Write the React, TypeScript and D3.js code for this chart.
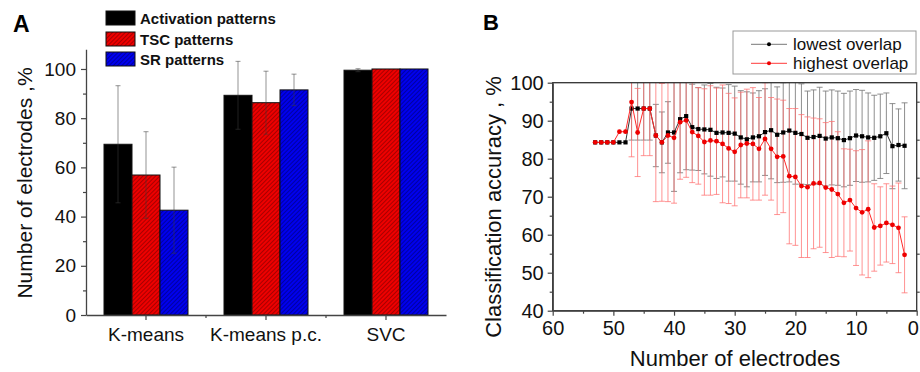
import React, { useEffect, useRef } from 'react';
import * as d3 from 'd3';

const FONT = '"Liberation Sans", Arial, Helvetica, sans-serif';

// Panel A: bar chart
const categories = ['K-means', 'K-means p.c.', 'SVC'];
const seriesNames = ['Activation patterns', 'TSC patterns', 'SR patterns'];
const activationValues = [69.4, 89.3, 99.5];
const activationErrors = [23.8, 13.8, 0.6];
const tscValues = [56.9, 86.3, 100];
const tscErrors = [17.6, 12.8, 0];
const srValues = [42.6, 91.5, 100];
const srErrors = [17.5, 6.4, 0];
const yTicksA = [0, 20, 40, 60, 80, 100];
const yMinorA = [10, 30, 50, 70, 90];

// Panel B: accuracy vs number of electrodes
const electrodes = [53, 52, 51, 50, 49, 48, 47, 46, 45, 44, 43, 42, 41, 40, 39, 38, 37, 36, 35, 34, 33, 32, 31, 30, 29, 28, 27,
  26, 25, 24, 23, 22, 21, 20, 19, 18, 17, 16, 15, 14, 13, 12, 11, 10, 9, 8, 7, 6, 5, 4, 3, 2];
const lowestOverlap = [84.3, 84.3, 84.3, 84.3, 84.3, 84.3, 93.2, 93.2, 93.2, 93.2, 86.1, 84.3, 86.9, 86.9, 90.4, 91.2, 88.3,
  87.8, 87.7, 87.6, 86.8, 86.9, 86.8, 86.6, 85.6, 85.1, 85.6, 85.9, 87.0, 87.5, 86.3, 86.9, 87.4, 86.8, 86.5, 85.5, 85.7, 86.0,
  85.3, 85.6, 85.4, 84.9, 85.4, 86.1, 85.9, 85.6, 85.5, 85.9, 86.7, 83.3, 83.6, 83.4];
const lowestErrors = [0, 0, 0, 0, 0, 0, 8.3, 8.3, 8.3, 8.3, 8.2, 8.0, 8.1, 15.5, 14.1, 14.1, 11.3, 10.9, 11.7, 12.2, 12.0, 11.7,
  12.7, 12.5, 12.3, 12.5, 11.7, 12.0, 11.4, 12.8, 12.6, 13.1, 13.5, 13.5, 13.2, 12.3, 12.4, 12.8, 12.5, 12.5, 12.4, 12.3, 12.4,
  12.1, 12.1, 11.7, 11.2, 11.1, 10.6, 11.2, 9.5, 11.3];
const highestOverlap = [84.3, 84.3, 84.3, 84.3, 87.1, 87.1, 94.9, 86.9, 93.2, 93.2, 86.1, 84.3, 86.1, 85.5, 89.6, 90.1, 87.0,
  86.0, 84.4, 84.8, 84.6, 83.9, 82.7, 81.8, 83.6, 84.0, 83.9, 82.6, 85.2, 82.6, 80.5, 80.6, 75.4, 75.2, 72.8, 72.5, 73.5, 73.6,
  72.4, 71.9, 70.7, 68.4, 69.1, 67.0, 65.9, 66.7, 61.9, 62.3, 63.1, 62.6, 61.8, 54.7];
const highestErrors = [0, 0, 0, 0, 0, 0, 14.4, 11.6, 12.4, 12.4, 17.4, 15.5, 17.4, 17.2, 15.0, 15.0, 13.3, 12.7, 14.0, 14.4,
  14.0, 15.5, 14.5, 14.2, 13.9, 14.3, 14.8, 13.5, 14.8, 13.5, 15.2, 14.8, 17.8, 18.0, 18.8, 18.5, 17.2, 16.9, 17.1, 17.9, 16.4,
  14.2, 13.4, 15.1, 16.5, 18.0, 11.5, 10.3, 10.3, 10.2, 11.8, 10.0];
const xTicksB = [60, 50, 40, 30, 20, 10, 0];
const xMinorB = [55, 45, 35, 25, 15, 5];
const yTicksB = [40, 50, 60, 70, 80, 90, 100];
const yMinorB = [45, 55, 65, 75, 85, 95];

export default function App() {
  const svgRef = useRef<SVGSVGElement>(null);

  useEffect(() => {
    const svg = d3.select(svgRef.current);
    svg.selectAll('*').remove();
    svg.style('font-family', FONT);

    const defs = svg.append('defs');
    const hatch = (id: string, bg: string, fg: string) => {
      const p = defs.append('pattern')
        .attr('id', id)
        .attr('width', 3)
        .attr('height', 3)
        .attr('patternUnits', 'userSpaceOnUse')
        .attr('patternTransform', 'rotate(45)');
      p.append('rect').attr('width', 3).attr('height', 3).attr('fill', bg);
      p.append('line').attr('x1', 0.5).attr('y1', 0).attr('x2', 0.5).attr('y2', 3)
        .attr('stroke', fg).attr('stroke-width', 0.9);
    };
    hatch('hatchRed', '#ee0000', '#a00000');
    hatch('hatchBlue', '#0000ee', '#00009a');

    // ---------- Panel A ----------
    const seriesA = [
      { name: seriesNames[0], values: activationValues, errors: activationErrors, fill: '#000' },
      { name: seriesNames[1], values: tscValues, errors: tscErrors, fill: 'url(#hatchRed)' },
      { name: seriesNames[2], values: srValues, errors: srErrors, fill: 'url(#hatchBlue)' }
    ];

    const yA = d3.scaleLinear().domain([0, 108]).range([315, 49.3]);
    const xA = d3.scaleBand().domain(categories).range([86, 446]).paddingInner(0.3).paddingOuter(0.15);
    const xS = d3.scaleBand().domain(seriesNames).range([0, xA.bandwidth()]);

    const gA = svg.append('g');

    seriesA.forEach(s => {
      gA.selectAll(null)
        .data(categories)
        .enter()
        .append('rect')
        .attr('x', c => xA(c)! + xS(s.name)!)
        .attr('y', (c, i) => yA(s.values[i]))
        .attr('width', xS.bandwidth())
        .attr('height', (c, i) => yA(0) - yA(s.values[i]))
        .attr('fill', s.fill)
        .attr('stroke', '#111')
        .attr('stroke-width', 1);
    });

    seriesA.forEach(s => {
      categories.forEach((c, i) => {
        const e = s.errors[i];
        if (!e) return;
        const cx = xA(c)! + xS(s.name)! + xS.bandwidth() / 2;
        const y1 = yA(s.values[i] + e);
        const y2 = yA(s.values[i] - e);
        const eg = gA.append('g').attr('stroke', 'rgba(60,60,60,0.55)').attr('stroke-width', 1);
        eg.append('line').attr('x1', cx).attr('x2', cx).attr('y1', y1).attr('y2', y2);
        eg.append('line').attr('x1', cx - 2.5).attr('x2', cx + 2.5).attr('y1', y1).attr('y2', y1);
        eg.append('line').attr('x1', cx - 2.5).attr('x2', cx + 2.5).attr('y1', y2).attr('y2', y2);
      });
    });

    const axisStyle = (g: any, size: number) => {
      g.select('.domain').attr('stroke', '#444').attr('stroke-width', 1.3);
      g.selectAll('.tick line').attr('stroke', '#444').attr('stroke-width', 1.2);
      g.selectAll('.tick text').attr('font-size', size).attr('fill', '#111').attr('font-family', FONT);
    };

    const ayA = gA.append('g').attr('transform', 'translate(86,0)')
      .call(d3.axisLeft(yA).tickValues(yTicksA).tickSize(5).tickSizeOuter(0).tickPadding(5));
    axisStyle(ayA, 19);
    const ayAm = gA.append('g').attr('transform', 'translate(86,0)')
      .call(d3.axisLeft(yA).tickValues(yMinorA).tickSize(3).tickFormat(() => ''));
    ayAm.select('.domain').remove();
    axisStyle(ayAm, 19);

    const axA = gA.append('g').attr('transform', 'translate(0,315)')
      .call(d3.axisBottom(xA).tickSize(5).tickSizeOuter(0).tickPadding(8));
    axisStyle(axA, 19);
    categories.slice(0, -1).forEach(c => {
      const x = xA(c)! + xA.bandwidth() / 2 + xA.step() / 2;
      gA.append('line').attr('x1', x).attr('x2', x).attr('y1', 315).attr('y2', 318)
        .attr('stroke', '#444').attr('stroke-width', 1.2);
    });

    gA.append('text')
      .attr('transform', 'translate(32,183) rotate(-90)')
      .attr('text-anchor', 'middle')
      .attr('font-size', 21)
      .attr('fill', '#111')
      .text('Number of electrodes ,%');

    gA.append('text').attr('x', 13).attr('y', 32).attr('font-size', 23).attr('font-weight', 'bold').text('A');

    // legend A
    const legRows = [18, 39, 59];
    seriesA.forEach((s, i) => {
      gA.append('rect').attr('x', 106).attr('y', legRows[i] - 7).attr('width', 29).attr('height', 14)
        .attr('fill', s.fill).attr('stroke', '#111').attr('stroke-width', 1);
      gA.append('text').attr('x', 140).attr('y', legRows[i] + 5.5)
        .attr('font-size', 15).attr('font-weight', 'bold').attr('fill', '#111').text(s.name);
    });

    // ---------- Panel B ----------
    const xB = d3.scaleLinear().domain([60, 0]).range([552.7, 916.7]);
    const yB = d3.scaleLinear().domain([40, 100]).range([310.7, 82.7]);
    const gB = svg.append('g');

    defs.append('clipPath').attr('id', 'plotB').append('rect')
      .attr('x', xB(60)).attr('y', yB(100)).attr('width', xB(0) - xB(60)).attr('height', yB(40) - yB(100));

    const seriesB = [
      { name: 'lowest overlap', values: lowestOverlap, errors: lowestErrors, err: '#7a7a7a', errOp: 0.85, line: '#333', dot: '#000', square: true },
      { name: 'highest overlap', values: highestOverlap, errors: highestErrors, err: '#ff6f6f', errOp: 0.75, line: '#ff2a2a', dot: '#ee0000', square: false }
    ];

    const clipG = gB.append('g').attr('clip-path', 'url(#plotB)');
    seriesB.forEach(s => {
      const eg = clipG.append('g').attr('stroke', s.err).attr('stroke-opacity', s.errOp).attr('stroke-width', 1);
      electrodes.forEach((e, i) => {
        const err = s.errors[i];
        if (!err) return;
        const x = xB(e);
        const y1 = yB(s.values[i] + err);
        const y2 = yB(s.values[i] - err);
        eg.append('line').attr('x1', x).attr('x2', x).attr('y1', y1).attr('y2', y2);
        eg.append('line').attr('x1', x - 3).attr('x2', x + 3).attr('y1', y1).attr('y2', y1);
        eg.append('line').attr('x1', x - 3).attr('x2', x + 3).attr('y1', y2).attr('y2', y2);
      });
    });

    seriesB.forEach(s => {
      const line = d3.line<number>().x((v, i) => xB(electrodes[i])).y(v => yB(v));
      gB.append('path').datum(s.values).attr('d', line).attr('fill', 'none')
        .attr('stroke', s.line).attr('stroke-width', 1);
      if (s.square) {
        gB.selectAll(null).data(s.values).enter().append('rect')
          .attr('x', (v, i) => xB(electrodes[i]) - 2.1).attr('y', v => yB(v) - 2.1)
          .attr('width', 4.2).attr('height', 4.2).attr('fill', s.dot);
      } else {
        gB.selectAll(null).data(s.values).enter().append('circle')
          .attr('cx', (v, i) => xB(electrodes[i])).attr('cy', v => yB(v))
          .attr('r', 2.4).attr('fill', s.dot);
      }
    });

    gB.append('rect').attr('x', xB(60)).attr('y', yB(100)).attr('width', xB(0) - xB(60)).attr('height', yB(40) - yB(100))
      .attr('fill', 'none').attr('stroke', '#333').attr('stroke-width', 1.3);

    const ayB = gB.append('g').attr('transform', `translate(${xB(60)},0)`)
      .call(d3.axisLeft(yB).tickValues(yTicksB).tickSize(5).tickSizeOuter(0).tickPadding(4));
    axisStyle(ayB, 20);
    const ayBm = gB.append('g').attr('transform', `translate(${xB(60)},0)`)
      .call(d3.axisLeft(yB).tickValues(yMinorB).tickSize(3).tickFormat(() => ''));
    ayBm.select('.domain').remove();
    axisStyle(ayBm, 20);
    const ayBr = gB.append('g').attr('transform', `translate(${xB(0)},0)`)
      .call(d3.axisRight(yB).tickValues(yMinorB).tickSize(3).tickFormat(() => ''));
    ayBr.select('.domain').remove();
    axisStyle(ayBr, 20);

    const axB = gB.append('g').attr('transform', `translate(0,${yB(40)})`)
      .call(d3.axisBottom(xB).tickValues(xTicksB).tickSize(5).tickSizeOuter(0).tickPadding(5));
    axisStyle(axB, 20);
    // last label sits at the window edge, pull it in a little
    axB.selectAll('.tick text').filter((d: any) => d === 0).attr('dx', -4);
    const axBm = gB.append('g').attr('transform', `translate(0,${yB(40)})`)
      .call(d3.axisBottom(xB).tickValues(xMinorB).tickSize(3).tickFormat(() => ''));
    axBm.select('.domain').remove();
    axisStyle(axBm, 20);

    gB.append('text').attr('x', 735).attr('y', 366).attr('text-anchor', 'middle')
      .attr('font-size', 22).attr('fill', '#111').text('Number of electrodes');
    gB.append('text')
      .attr('transform', 'translate(501,207) rotate(-90)')
      .attr('text-anchor', 'middle')
      .attr('font-size', 22)
      .attr('fill', '#111')
      .text('Classification accuracy , %');

    gB.append('text').attr('x', 483).attr('y', 30).attr('font-size', 22).attr('font-weight', 'bold').text('B');

    // legend B
    gB.append('rect').attr('x', 733).attr('y', 31).attr('width', 183).attr('height', 43)
      .attr('fill', '#fff').attr('stroke', '#999').attr('stroke-width', 1);
    const legB = [44.3, 63.3];
    seriesB.forEach((s, i) => {
      const y = legB[i];
      gB.append('line').attr('x1', 751).attr('x2', 787).attr('y1', y).attr('y2', y)
        .attr('stroke', i === 0 ? '#777' : '#ff3a3a').attr('stroke-width', 1);
      gB.append('circle').attr('cx', 769).attr('cy', y).attr('r', 2).attr('fill', s.dot);
      gB.append('text').attr('x', 793).attr('y', y + 6).attr('font-size', 17).attr('fill', '#111').text(s.name);
    });
  }, []);

  return (
    <div style={{ position: 'absolute', left: 0, top: 0, background: '#fff' }}>
      <svg ref={svgRef} width={920} height={372}></svg>
    </div>
  );
}
